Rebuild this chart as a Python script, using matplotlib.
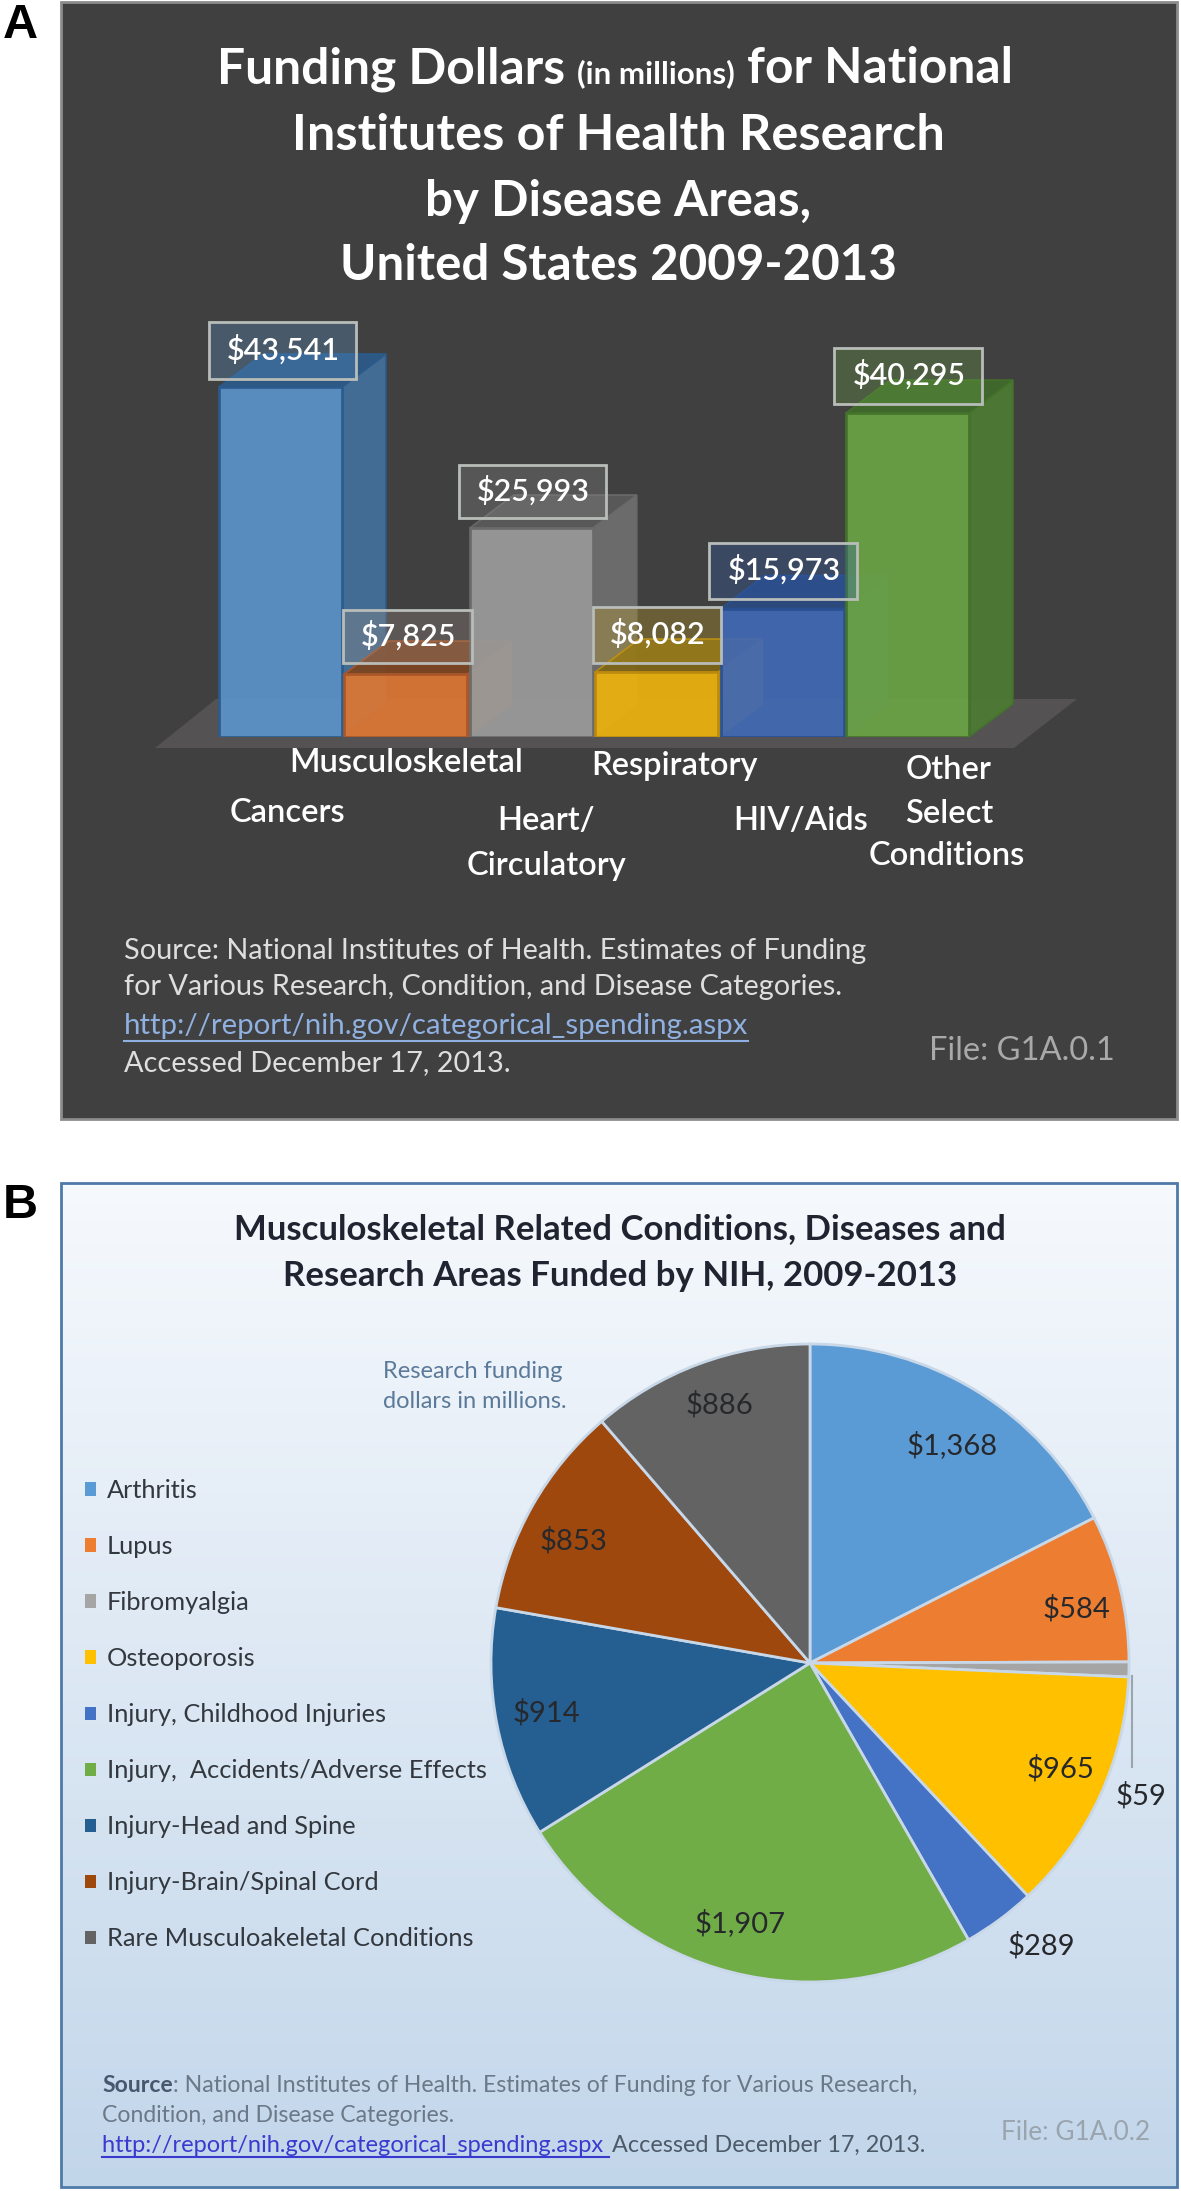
import numpy as np
import matplotlib
matplotlib.use("Agg")
import matplotlib.pyplot as plt
from matplotlib.patches import Polygon, Rectangle, Patch

plt.rcParams['font.family'] = ['Lato', 'DejaVu Sans']

# panel A data
bar_names = ["Cancers", "Musculoskeletal", "Heart/Circulatory", "Respiratory", "HIV/Aids", "Other Select Conditions"]
bar_values = [43541, 7825, 25993, 8082, 15973, 40295]
bar_labels = ["$43,541", "$7,825", "$25,993", "$8,082", "$15,973", "$40,295"]
bar_front = ["#5b93c9", "#dc7733", "#9b9b9b", "#ecb20f", "#4269b3", "#6ba344"]
bar_side = ["#44709c", "#b5622c", "#6f6f6f", "#b58c1a", "#34558f", "#4c7b33"]
bar_top = ["#2c5a88", "#7c4522", "#5a5a5a", "#7d6518", "#2b4a80", "#3f6a2b"]
bar_edge = ["#2a5b8c", "#a9562a", "#6a6a6a", "#b98a10", "#2a5092", "#43722b"]
box_fill = ["#5b93c9", "#a08f85", "#8a8a8a", "#c9a520", "#2f5fb0", "#6ba344"]

# panel B data
pie_names = ["Arthritis", "Lupus", "Fibromyalgia", "Osteoporosis", "Injury, Childhood Injuries",
             "Injury,  Accidents/Adverse Effects", "Injury-Head and Spine",
             "Injury-Brain/Spinal Cord", "Rare Musculoakeletal Conditions"]
pie_values = [1368, 584, 59, 965, 289, 1907, 914, 853, 886]
pie_labels = ["$1,368", "$584", "$59", "$965", "$289", "$1,907", "$914", "$853", "$886"]
pie_colors = ["#5b9bd5", "#ed7d31", "#a5a5a5", "#ffc000", "#4472c4", "#70ad47", "#255e91", "#9e480e", "#636363"]

W, H = 1181, 2191
fig = plt.figure(figsize=(W / 100, H / 100), dpi=100, facecolor="white")


def px_axes(left, top, right, bottom, z):
    a = fig.add_axes([left / W, 1 - bottom / H, (right - left) / W, (bottom - top) / H], zorder=z)
    a.axis("off")
    return a


# background layer and text layer, both in picture pixels
bg = px_axes(0, 0, W, H, 0)
bg.set_xlim(0, W)
bg.set_ylim(H, 0)
top = px_axes(0, 0, W, H, 5)
top.set_xlim(0, W)
top.set_ylim(H, 0)
top.patch.set_alpha(0)

# panel A background
bg.add_patch(Rectangle((61, 2), 1116, 1117, fc="#404040", ec="#8c8c8c", lw=2))
bg.add_patch(Polygon([(155, 748), (1014, 748), (1077, 699), (216, 699)], fc="#545252", ec="none"))

# panel B background gradient
grad = np.linspace(0, 1, 256).reshape(-1, 1)
c0 = np.array([0xf6, 0xf9, 0xfd]) / 255
c1 = np.array([0xc2, 0xd6, 0xea]) / 255
img = c0 + (c1 - c0) * grad[..., None]
bg.imshow(img, extent=(61, 1177, 2187, 1183), aspect="auto", zorder=1)
bg.set_xlim(0, W)
bg.set_ylim(H, 0)
bg.add_patch(Rectangle((61, 1183), 1116, 1004, fc="none", ec="#4f7aa8", lw=2, zorder=2))

top.text(3, 26, "A", family="Liberation Sans", weight="bold", fontsize=35, color="black", va="center")
top.text(3, 1205, "B", family="Liberation Sans", weight="bold", fontsize=35, color="black", va="center")


# bars: one axes, x in categories, y in dollars
pitch = 125.4
x0 = 280.5
px_per_dollar = 350 / 43541
ax = px_axes(100, 237, 1100, 737, 1)
ax.set_xlim((100 - x0) / pitch, (1100 - x0) / pitch)
ax.set_ylim(0, 500 / px_per_dollar)
bw = 123 / pitch
depth_x = 44 / pitch
depth_y = 33 / px_per_dollar
for i, v in enumerate(bar_values):
    z = 2 + i * 3
    xl, xr = i - bw / 2, i + bw / 2
    ax.add_patch(Polygon([(xr, 0), (xr + depth_x, depth_y), (xr + depth_x, v + depth_y), (xr, v)],
                         fc=bar_side[i], ec=bar_edge[i], lw=1.2, alpha=0.92, zorder=z, clip_on=False))
    ax.add_patch(Polygon([(xl, v), (xl + depth_x, v + depth_y), (xr + depth_x, v + depth_y), (xr, v)],
                         fc=bar_top[i], ec=bar_edge[i], lw=1.2, alpha=0.95, zorder=z, clip_on=False))
    ax.bar(i, v, width=bw, color=bar_front[i], edgecolor=bar_edge[i], linewidth=2, alpha=0.93, zorder=z + 1)

# value boxes, tinted by the bar behind them
boxes = [(209, 322, 356, 379), (343, 610, 472, 663), (459, 465, 606, 518),
         (593, 607, 721, 663), (709, 543, 857, 599), (834, 348, 982, 404)]
for (l, t, r, b), lab, c in zip(boxes, bar_labels, box_fill):
    top.add_patch(Rectangle((l, t), r - l, b - t, fc=matplotlib.colors.to_rgba(c, 0.3), ec="#b9bdb9", lw=2))
    top.text((l + r) / 2 + 1, (t + b) / 2 - 1, lab, color="white", fontsize=22, weight="semibold", ha="center", va="center")

# category labels
cat_text = [("Cancers", 287, 813), ("Musculoskeletal", 406, 763), ("Heart/", 546, 821), ("Circulatory", 546, 866),
            ("Respiratory", 674, 766), ("HIV/Aids", 801, 821), ("Other", 949, 770), ("Select", 949, 814),
            ("Conditions", 947, 856)]
for s, x, y in cat_text:
    top.text(x, y, s, color="white", fontsize=23.5, weight="semibold", ha="center", va="center")


def title_pieces(pieces, x, y, color):
    # lay out mixed size text one piece after another
    r = fig.canvas.get_renderer()
    for s, size in pieces:
        t = top.text(x, y, s, color=color, fontsize=size, weight="bold", va="baseline")
        x += t.get_window_extent(r).width


title_pieces([("Funding Dollars ", 35.8), ("(in millions)", 22.5), (" for National", 35.8)], 217, 83, "white")
for s, y, size in [("Institutes of Health Research", 135, 36.3), ("by Disease Areas,", 201, 35.5), ("United States 2009-2013", 265, 35.5)]:
    top.text(618, y, s, color="white", fontsize=size, weight="bold", ha="center", va="center")

# panel A source
src_a = [("Source: National Institutes of Health. Estimates of Funding", 951),
         ("for Various Research, Condition, and Disease Categories.", 987),
         ("http://report/nih.gov/categorical_spending.aspx", 1026),
         ("Accessed December 17, 2013.", 1063)]
for s, y in src_a:
    link = s.startswith("http")
    t = top.text(124, y, s, color="#8fb0e0" if link else "#dedede", fontsize=21.2 if link else 20.8, va="center")
    if link:
        w = t.get_window_extent(fig.canvas.get_renderer()).width
        top.plot([124, 124 + w], [y + 15, y + 15], color="#8fb0e0", lw=1.5)
top.text(929, 1051, "File: G1A.0.1", color="#a9a9a9", fontsize=23.5, va="center")

# panel B titles
top.text(620, 1229, "Musculoskeletal Related Conditions, Diseases and", color="#1f2430", fontsize=25, weight="bold", ha="center", va="center")
top.text(620, 1276, "Research Areas Funded by NIH, 2009-2013", color="#1f2430", fontsize=25, weight="bold", ha="center", va="center")
top.text(383, 1371, "Research funding", color="#5b7a99", fontsize=17, va="center")
top.text(383, 1401, "dollars in millions.", color="#5b7a99", fontsize=17, va="center")

# pie
R = 319
cx, cy = 810, 1663
pax = px_axes(cx - R, cy - R, cx + R, cy + R, 1)
pax.pie(pie_values, colors=pie_colors, startangle=90, counterclock=False, radius=1,
        wedgeprops=dict(edgecolor="#c8d8e8", linewidth=2))
pax.set_xlim(-1, 1)
pax.set_ylim(-1, 1)

pie_pos = [(952, 1445), (1076, 1609), (1141, 1796), (1060, 1769), (1041, 1946),
           (740, 1923), (546, 1713), (573, 1541), (719, 1405)]
for s, (x, y) in zip(pie_labels, pie_pos):
    top.text(x, y, s, color="#26282c", fontsize=21, ha="center", va="center")
top.plot([1132, 1132], [1676, 1767], color="#9aa5ae", lw=1.5)

handles = [Patch(fc=c, ec="none") for c in pie_colors]
top.legend(handles, pie_names, loc="upper left", bbox_to_anchor=(85, 1479), bbox_transform=top.transData,
           frameon=False, fontsize=18.3, labelcolor="#33383f", handlelength=0.42, handleheight=0.42,
           handletextpad=0.45, labelspacing=1.3, borderpad=0, borderaxespad=0)

# panel B source
t1 = top.text(102, 2085, "Source", color="#46586e", fontsize=16.6, weight="bold", va="center")
w1 = t1.get_window_extent(fig.canvas.get_renderer()).width
top.text(102 + w1, 2085, ": National Institutes of Health. Estimates of Funding for Various Research,", color="#6a7888", fontsize=16.6, va="center")
top.text(102, 2115, "Condition, and Disease Categories.", color="#6a7888", fontsize=16.6, va="center")
t2 = top.text(102, 2145, "http://report/nih.gov/categorical_spending.aspx ", color="#3a3ad0", fontsize=17, va="center")
w2 = t2.get_window_extent(fig.canvas.get_renderer()).width
top.plot([102, 102 + w2], [2157, 2157], color="#3a3ad0", lw=1.5)
top.text(102 + w2 + 3, 2145, "Accessed December 17, 2013.", color="#4d5a6a", fontsize=16.8, va="center")
top.text(1001, 2133, "File: G1A.0.2", color="#9aa4ae", fontsize=18.8, va="center")

fig.savefig("out.png", dpi=100)
